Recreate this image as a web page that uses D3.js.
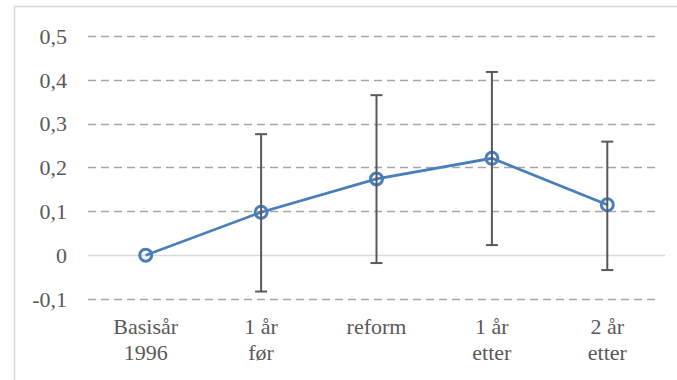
<!DOCTYPE html>
<html>
<head>
<meta charset="utf-8">
<script src="https://cdn.jsdelivr.net/npm/d3@7/dist/d3.min.js"></script>
<style>
  html, body { margin: 0; padding: 0; background: #fff; }
  svg { display: block; }
</style>
</head>
<body>
<svg id="chart" width="677" height="380"></svg>
<script>
// Category labels (split over two lines where needed)
const categories = [["Basisår", "1996"], ["1 år", "før"], ["reform"], ["1 år", "etter"], ["2 år", "etter"]];
// Estimated effect per period
const values = [0, 0.098, 0.174, 0.221, 0.115];
// Confidence interval bounds
const lower = [null, -0.083, -0.018, 0.023, -0.034];
const upper = [null, 0.276, 0.365, 0.418, 0.259];
// Y axis ticks
const yTicks = [-0.1, 0, 0.1, 0.2, 0.3, 0.4, 0.5];

const FONT = "Liberation Serif";
const FONT_SIZE = 22;
const TEXT_COLOR = "#595959";

const svg = d3.select("#chart");

// Chart frame (light border along the top and left)
svg.append("rect")
  .attr("x", 14.5).attr("y", 6.5)
  .attr("width", 700).attr("height", 400)
  .attr("fill", "#fff").attr("stroke", "#d9d9d9").attr("stroke-width", 1.5);

const x = d3.scaleBand()
  .domain(categories.map((d, i) => i))
  .range([88, 665]);

const y = d3.scaleLinear()
  .domain([-0.1, 0.5])
  .range([299, 36]);

// Comma decimal, plain hyphen for negatives
const tickLabel = v => v === 0 ? "0" : d3.format(".1f")(v).replace(".", ",").replace("\u2212", "-");

// Horizontal gridlines
svg.append("g").selectAll("line")
  .data(yTicks)
  .join("line")
  .attr("x1", 88).attr("x2", d => d === 0 ? 665 : 660)
  .attr("y1", d => Math.round(y(d)) + 0.5)
  .attr("y2", d => Math.round(y(d)) + 0.5)
  .attr("stroke", d => d === 0 ? "#d9d9d9" : "#a6a6a6")
  .attr("stroke-width", 1.5)
  .attr("stroke-dasharray", d => d === 0 ? null : "8,5");

// Y axis labels
const yAxis = d3.axisLeft(y).tickValues(yTicks).tickFormat(tickLabel).tickSize(0).tickPadding(0);
const gy = svg.append("g").attr("transform", "translate(67,0)").call(yAxis)
  .attr("font-family", FONT).attr("font-size", FONT_SIZE);
gy.select(".domain").remove();
gy.selectAll("text").attr("fill", TEXT_COLOR).attr("dy", "0.33em");

// Category labels
const cx = i => x(i) + x.bandwidth() / 2;
const gx = svg.append("g")
  .attr("font-family", FONT).attr("font-size", FONT_SIZE).attr("fill", TEXT_COLOR);
categories.forEach((lines, i) => {
  const t = gx.append("text")
    .attr("x", cx(i))
    .attr("y", 334)
    .attr("text-anchor", "middle");
  lines.forEach((s, j) => {
    t.append("tspan").attr("x", cx(i)).attr("dy", j === 0 ? 0 : 26).text(s);
  });
});

// Series line
const line = d3.line().x((d, i) => cx(i)).y(d => y(d));
svg.append("path")
  .datum(values)
  .attr("d", line)
  .attr("fill", "none")
  .attr("stroke", "#4a7ebb")
  .attr("stroke-width", 2.75);

// Markers
svg.append("g").selectAll("circle")
  .data(values)
  .join("circle")
  .attr("cx", (d, i) => cx(i))
  .attr("cy", d => y(d))
  .attr("r", 6)
  .attr("fill", "none")
  .attr("stroke", "#4a7ebb")
  .attr("stroke-width", 3);

// Error bars
const eb = svg.append("g").attr("stroke", "#595959").attr("stroke-width", 2);
values.forEach((v, i) => {
  if (lower[i] == null) return;
  const xc = cx(i);
  eb.append("line").attr("x1", xc).attr("x2", xc).attr("y1", y(upper[i])).attr("y2", y(lower[i]));
  eb.append("line").attr("x1", xc - 6).attr("x2", xc + 6).attr("y1", y(upper[i])).attr("y2", y(upper[i]));
  eb.append("line").attr("x1", xc - 6).attr("x2", xc + 6).attr("y1", y(lower[i])).attr("y2", y(lower[i]));
});
</script>
</body>
</html>
